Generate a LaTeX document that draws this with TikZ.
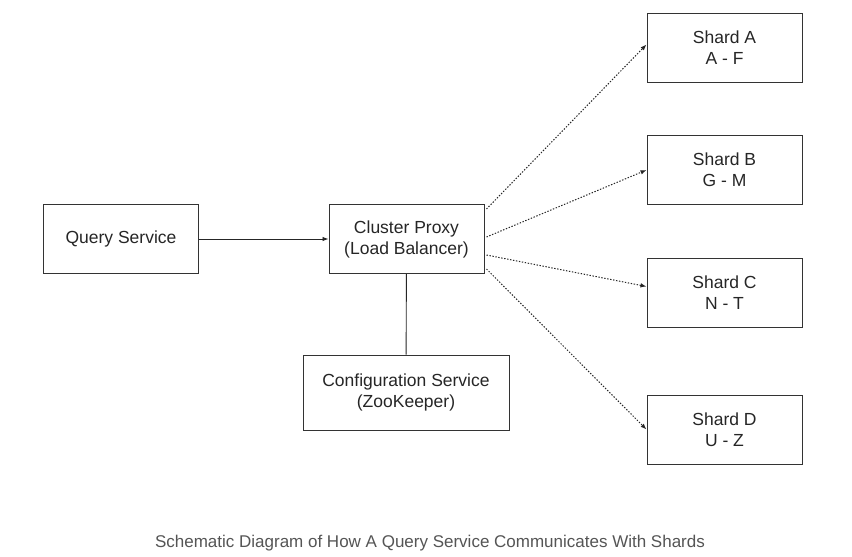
\documentclass[tikz,border=0pt]{standalone}
\usepackage{fontspec}
\setmainfont{Liberation Sans}
\usetikzlibrary{arrows.meta,calc}
\definecolor{boxline}{HTML}{333333}
\definecolor{captiongray}{HTML}{555555}
\tikzset{
  box/.style={draw=boxline, line width=1pt, minimum width=155pt, minimum height=69pt, align=center, inner sep=0pt, font=\fontsize{17.5}{21}\selectfont, text=black!85},
  conn/.style={draw=black!85, line width=0.9pt},
  dotconn/.style={draw=black!85, line width=1pt, dash pattern=on 1.4pt off 1.6pt, -{Latex[length=6pt,width=4.5pt]}},
}
\begin{document}
\begin{tikzpicture}[x=1pt,y=-1pt]
\useasboundingbox[fill=white] (0,0) rectangle (852,557);
\node[box] (query) at (121,239) {Query Service};
\node[box] (proxy) at (406.5,239) {Cluster Proxy\\(Load Balancer)};
\node[box, minimum width=206pt, minimum height=75pt] (config) at (406,392.5) {Configuration Service\\(ZooKeeper)};
\node[box] (sa) at (724.5,47.5) {Shard A\\A - F};
\node[box] (sb) at (724.5,170) {Shard B\\G - M};
\node[box] (sc) at (724.5,292.5) {Shard C\\N - T};
\node[box] (sd) at (724.5,429.5) {Shard D\\U - Z};
\draw[conn, -{Latex[length=6pt,width=4.5pt]}] (query) -- (proxy);
\draw[conn] (proxy) -- (config);
\draw[dotconn] ([shift={(2,5)}]proxy.north east) -- ([yshift=3]sa.west);
\draw[dotconn] ([shift={(2,-2)}]proxy.east) -- (sb.west);
\draw[dotconn] ([shift={(2,16)}]proxy.east) -- ([yshift=6]sc.west);
\draw[dotconn] ([shift={(2,-5)}]proxy.south east) -- (sd.west);
\node[text=captiongray, font=\fontsize{17}{20}\selectfont, anchor=center] (cap) at (430,543) {Schematic Diagram of How A Query Service Communicates With Shards};
\end{tikzpicture}
\end{document}
